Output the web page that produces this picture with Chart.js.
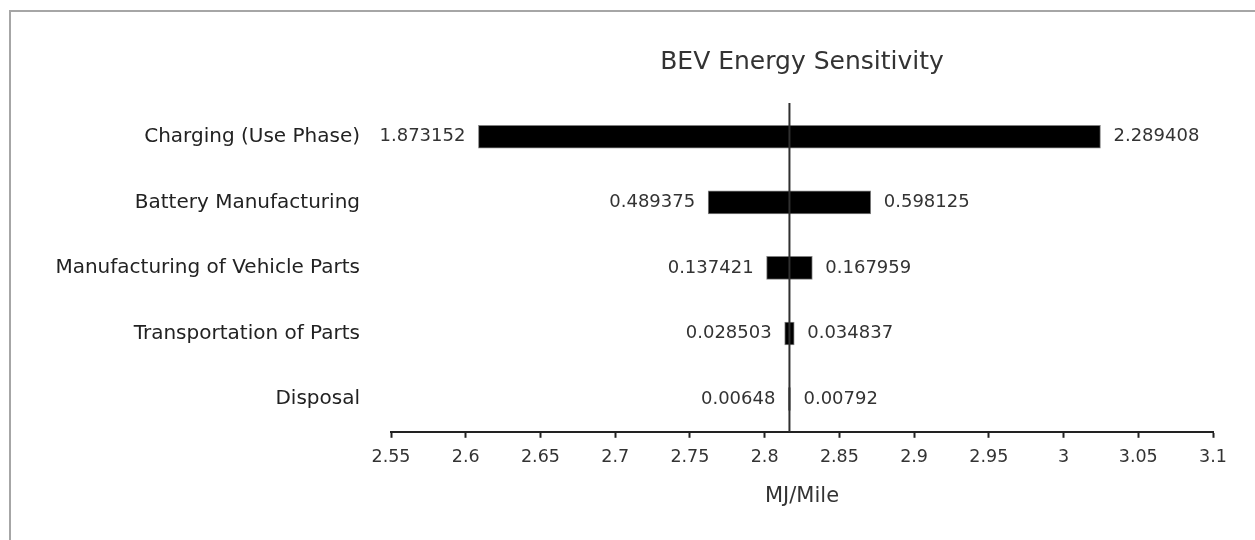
<!DOCTYPE html>
<html>
<head>
<meta charset="utf-8">
<script src="https://cdn.jsdelivr.net/npm/chart.js@4.4.1/dist/chart.umd.min.js"></script>
<style>
  html, body { margin: 0; padding: 0; background: #fff; overflow: hidden; }
  #frame { position: absolute; left: 9px; top: 10px; width: 1300px; height: 600px; border: 2px solid #a6a6a6; }
  #wrap { position: absolute; left: 11px; top: 12px; width: 1244px; height: 528px; }
</style>
</head>
<body>
<div id="frame"></div>
<div id="wrap"><canvas id="tornado"></canvas></div>
<script>
const categories = [
  "Charging (Use Phase)",
  "Battery Manufacturing",
  "Manufacturing of Vehicle Parts",
  "Transportation of Parts",
  "Disposal",
];
// bar ends in MJ/Mile (low case, high case)
const lowEnds = [2.6085, 2.7622, 2.8013, 2.8134, 2.8159];
const highEnds = [3.0247, 2.871, 2.8319, 2.8198, 2.8173];
// values printed next to the bars
const lowLabels = ["1.873152", "0.489375", "0.137421", "0.028503", "0.00648"];
const highLabels = ["2.289408", "0.598125", "0.167959", "0.034837", "0.00792"];
const baseline = 2.8166;
const tickValues = [2.55, 2.6, 2.65, 2.7, 2.75, 2.8, 2.85, 2.9, 2.95, 3, 3.05, 3.1];

const FONT = "'DejaVu Sans', sans-serif";
const TEXT = "#333333";

const baselinePlugin = {
  id: "baseline",
  afterDatasetsDraw(chart) {
    const ctx = chart.ctx;
    const x = chart.scales.x.getPixelForValue(baseline);
    const area = chart.chartArea;
    ctx.save();
    ctx.strokeStyle = "#303030";
    ctx.lineWidth = 2;
    ctx.beginPath();
    ctx.moveTo(x, area.top - 1);
    ctx.lineTo(x, area.bottom);
    ctx.stroke();
    ctx.restore();
  },
};

const valueLabels = {
  id: "valueLabels",
  afterDatasetsDraw(chart) {
    const ctx = chart.ctx;
    const meta = chart.getDatasetMeta(0);
    ctx.save();
    ctx.font = "18px " + FONT;
    ctx.fillStyle = TEXT;
    ctx.textBaseline = "middle";
    meta.data.forEach((bar, i) => {
      const left = Math.min(bar.x, bar.base);
      const right = Math.max(bar.x, bar.base);
      ctx.textAlign = "right";
      ctx.fillText(lowLabels[i], left - 13, bar.y);
      ctx.textAlign = "left";
      ctx.fillText(highLabels[i], right + 13, bar.y);
    });
    ctx.restore();
  },
};

new Chart(document.getElementById("tornado"), {
  type: "bar",
  data: {
    labels: categories,
    datasets: [
      {
        data: categories.map((c, i) => [lowEnds[i], highEnds[i]]),
        backgroundColor: "#000000",
        borderColor: "#808080",
        borderWidth: 1,
        borderSkipped: false,
        barThickness: 23,
      },
    ],
  },
  options: {
    indexAxis: "y",
    responsive: true,
    maintainAspectRatio: false,
    animation: false,
    layout: { padding: { left: 0, right: 42, top: 0, bottom: 31 } },
    plugins: {
      legend: { display: false },
      tooltip: { enabled: false },
      title: {
        display: true,
        text: "BEV Energy Sensitivity",
        fullSize: false,
        color: TEXT,
        font: { family: FONT, size: 25, weight: "normal" },
        padding: { top: 35, bottom: 27 },
      },
    },
    scales: {
      x: {
        type: "linear",
        min: 2.55,
        max: 3.1,
        afterBuildTicks(scale) {
          scale.ticks = tickValues.map((v) => ({ value: v }));
        },
        ticks: {
          color: TEXT,
          font: { family: FONT, size: 17.5 },
          padding: 9,
          maxRotation: 0,
          autoSkip: false,
          callback: (v) => String(Number(v.toFixed(2))),
        },
        grid: {
          display: true,
          drawOnChartArea: false,
          drawTicks: true,
          tickLength: 6,
          tickWidth: 2,
          tickColor: "#222222",
        },
        border: { display: true, color: "#222222", width: 2 },
        title: {
          display: true,
          text: "MJ/Mile",
          color: TEXT,
          font: { family: FONT, size: 21 },
          padding: { top: 7, bottom: 0 },
        },
      },
      y: {
        afterFit(scale) {
          scale.width = 380;
        },
        ticks: {
          color: "#222222",
          font: { family: FONT, size: 20 },
          padding: 31,
        },
        grid: { display: false, drawTicks: false },
        border: { display: false },
      },
    },
  },
  plugins: [baselinePlugin, valueLabels],
});
</script>
</body>
</html>
